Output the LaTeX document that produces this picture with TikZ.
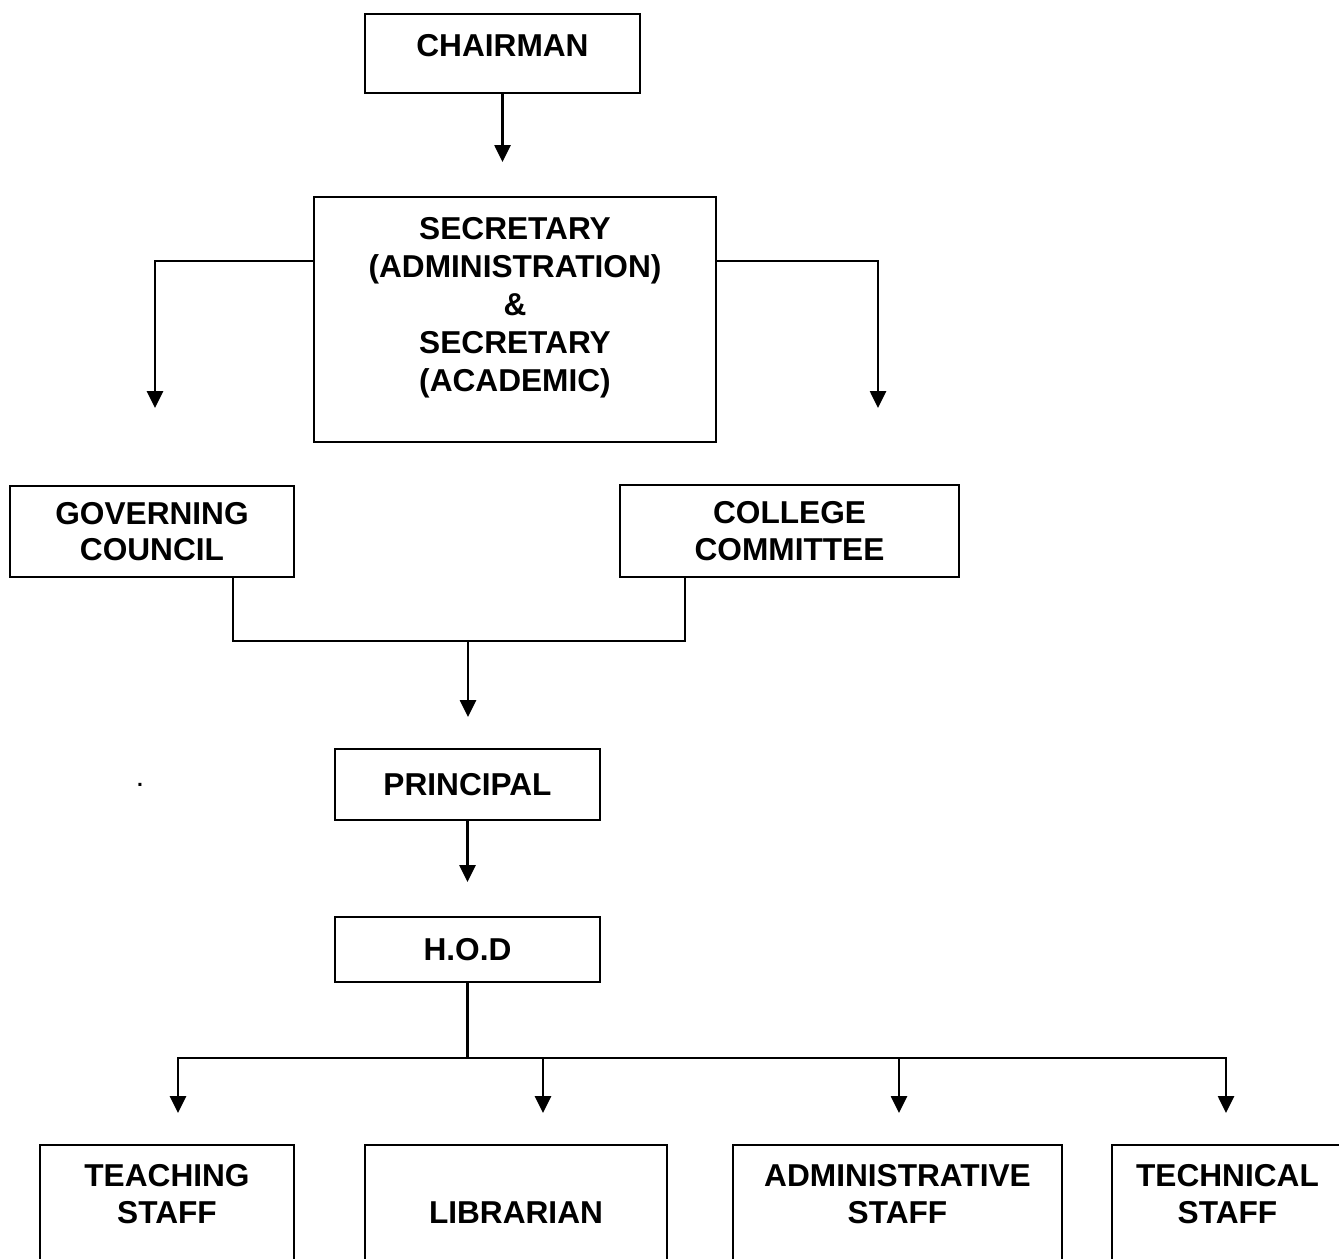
\documentclass[tikz,border=0pt]{standalone}
\usepackage{fontspec}
\setmainfont{Liberation Sans}
\usetikzlibrary{arrows.meta,positioning}
\tikzset{
	box/.style={draw, line width=1.1pt, inner sep=0pt, align=center, font=\bfseries\fontsize{18}{20.8}\selectfont},
	boxtext/.style={inner sep=0pt, align=center, font=\bfseries\fontsize{18}{20.8}\selectfont},
	conn/.style={line width=1.5pt},
	arr/.style={line width=1.5pt, -{Triangle[length=3.4mm, width=3.2mm]}},
}
\begin{document}
\begin{tikzpicture}
			%%%%% START %%%%%
			
			\useasboundingbox (0, 0) rectangle (26.78, -25.16);
			\clip (0, 0) rectangle (26.78, -25.16);
			
			\node[box, minimum width=5.5cm, minimum height=1.58cm] (chairman) at (10.05, -1.07) {};
			\node[boxtext, below=0.43cm of chairman.north] (chairmantxt) {CHAIRMAN};
			\coordinate (sectip) at (10.05, -3.24);
			\draw[arr] (chairman.south) -- (sectip);
			
			\node[box, minimum width=8.04cm, minimum height=4.9cm] (secretary) at (10.3, -6.39) {};
			\node[boxtext, font=\bfseries\fontsize{18}{21.6}\selectfont, below=0.42cm of secretary.north] (secretarytxt) {SECRETARY\\(ADMINISTRATION)\\\&\\SECRETARY\\(ACADEMIC)};
			\coordinate (govtip) at (3.1, -8.16);
			\coordinate (cctip) at (17.56, -8.16);
			\draw[arr] ([yshift=-1.3cm]secretary.north west) -| (govtip);
			\draw[arr] ([yshift=-1.3cm]secretary.north east) -| (cctip);
			
			\node[box, minimum width=5.68cm, minimum height=1.82cm] (governing) at (3.04, -10.63) {GOVERNING\\COUNCIL};
			\node[box, minimum width=6.78cm, minimum height=1.84cm] (college) at (15.79, -10.62) {COLLEGE\\COMMITTEE};
			\coordinate (merge) at (9.36, -12.82);
			\coordinate (princtip) at (9.36, -14.34);
			\draw[conn] ([xshift=1.62cm]governing.south) |- (merge) -| ([xshift=-2.09cm]college.south);
			\draw[arr] (merge) -- (princtip);
			
			\node[boxtext, font=\bfseries\fontsize{12}{14}\selectfont] (stray) at (2.8, -15.7) {.};
			
			\node[box, minimum width=5.3cm, minimum height=1.42cm] (principal) at (9.35, -15.69) {PRINCIPAL};
			\coordinate (hodtip) at (9.35, -17.64);
			\draw[arr] (principal.south) -- (hodtip);
			
			\node[box, minimum width=5.3cm, minimum height=1.3cm] (hod) at (9.35, -18.99) {H.O.D};
			\coordinate (bus) at (9.35, -21.16);
			\draw[conn] (hod.south) -- (bus);
			
			\coordinate (teachtip) at (3.56, -22.26);
			\coordinate (librtip) at (10.86, -22.26);
			\coordinate (admintip) at (17.98, -22.26);
			\coordinate (techtip) at (24.52, -22.26);
			\draw[arr] (bus) -| (teachtip);
			\draw[arr] (bus) -| (librtip);
			\draw[arr] (bus) -| (admintip);
			\draw[arr] (bus) -| (techtip);
			
			\node[box, minimum width=5.08cm, minimum height=2.7cm] (teach) at (3.34, -24.25) {};
			\node[boxtext, below=0.4cm of teach.north] (teachtxt) {TEACHING\\STAFF};
			\node[box, minimum width=6.04cm, minimum height=2.7cm] (libr) at (10.32, -24.25) {};
			\node[boxtext, below=1.14cm of libr.north] (librtxt) {LIBRARIAN};
			\node[box, minimum width=6.58cm, minimum height=2.7cm] (admin) at (17.95, -24.25) {};
			\node[boxtext, below=0.4cm of admin.north] (admintxt) {ADMINISTRATIVE\\STAFF};
			\node[box, minimum width=4.62cm, minimum height=2.7cm] (tech) at (24.55, -24.25) {};
			\node[boxtext, below=0.4cm of tech.north] (techtxt) {TECHNICAL\\STAFF};
			
			%%%%% END %%%%%
		\end{tikzpicture}
\end{document}
